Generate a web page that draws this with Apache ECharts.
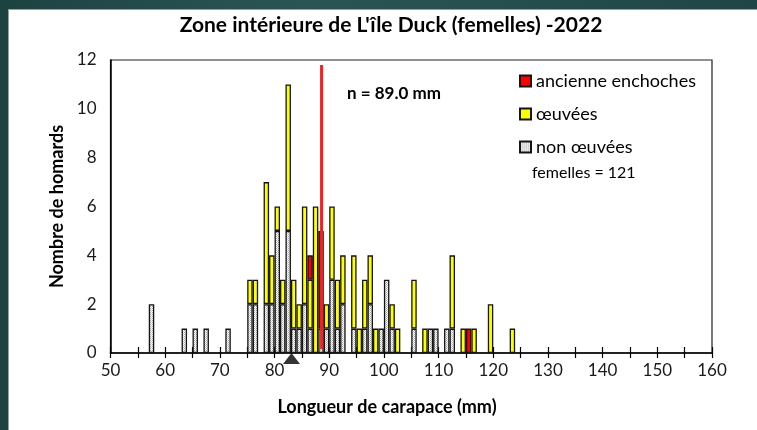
<!DOCTYPE html>
<html>
<head>
<meta charset="utf-8">
<script src="https://cdn.jsdelivr.net/npm/echarts@6/dist/echarts.min.js"></script>
<style>
  html, body { margin: 0; padding: 0; }
  body { width: 757px; height: 430px; position: relative; overflow: hidden;
         background: linear-gradient(90deg, #1d4341, #2b5553 40%, #1f4644); }
  #panel { position: absolute; left: 8px; top: 9px; right: 0; bottom: 0;
           background: #fff; border-left: 1px solid #9c9c9c; border-top: 1px solid #9c9c9c; }
  #main { position: absolute; left: 0; top: 0; width: 757px; height: 430px; }
</style>
</head>
<body>
<div id="panel"></div>
<div id="main"></div>
<script>
// carapace length bins, 1 mm wide (50..159)
var binMin = 50
var binMax = 160
var xTicks = [50, 60, 70, 80, 90, 100, 110, 120, 130, 140, 150, 160]
var yTicks = [0, 2, 4, 6, 8, 10, 12]

// [bin (mm), count]
var nonOeuvees = [[57,2],[63,1],[65,1],[67,1],[71,1],[75,2],[76,2],[78,2],[79,2],[80,5],
  [81,2],[82,5],[83,1],[84,1],[85,2],[86,1],[88,1],[89,1],[90,3],[91,1],[92,2],[94,1],
  [96,1],[97,2],[99,1],[100,3],[101,1],[105,1],[108,1],[109,1],[111,1],[112,1]]
var oeuvees = [[75,1],[76,1],[78,5],[79,2],[80,1],[81,1],[82,6],[83,2],[84,1],[85,4],
  [86,2],[87,6],[89,1],[90,3],[91,2],[92,2],[94,3],[95,1],[96,2],[97,2],[98,1],[101,1],
  [102,1],[105,2],[107,1],[112,3],[114,1],[116,1],[119,2],[123,1]]
var ancienneEnchoches = [[86,1],[88,4],[115,1]]

// red vertical line and size marker (triangle)
var meanLine = [[88.6, 0.15], [88.6, 11.8]]
var meanText = 'n = 89.0 mm'
var marker = [[83.1, 0]]
var totalText = 'femelles = 121'

var categories = []
for (var v = binMin; v < binMax; v++) categories.push(v)

function fill(pairs) {
  var out = categories.map(function () { return '-' })
  pairs.forEach(function (p) { out[p[0] - binMin] = p[1] })
  return out
}

// dotted grey fill
var cv = document.createElement('canvas')
cv.width = 2; cv.height = 2
var cx = cv.getContext('2d')
cx.fillStyle = '#ffffff'; cx.fillRect(0, 0, 2, 2)
cx.fillStyle = '#a8a8a8'; cx.fillRect(0, 0, 1, 1)
cx.fillStyle = '#d0d0d0'; cx.fillRect(1, 1, 1, 1)
var dotted = { image: cv, repeat: 'repeat' }

var font = 'Lato'
var border = { borderColor: '#141414', borderWidth: 1.3 }

var chart = echarts.init(document.getElementById('main'))
chart.setOption({
  animation: false,
  textStyle: { fontFamily: font },
  title: {
    text: "Zone intérieure de L'île Duck (femelles) -2022",
    left: 386, top: 10, textAlign: 'center',
    textStyle: { fontFamily: font, fontSize: 21, fontWeight: 'bold', color: '#000' }
  },
  legend: {
    orient: 'vertical', left: 519, top: 71, padding: 0, itemWidth: 11, itemHeight: 11, itemGap: 13,
    icon: 'rect',
    data: ['ancienne enchoches', 'œuvées', 'non œuvées'],
    textStyle: { fontFamily: font, fontSize: 18, color: '#000', lineHeight: 20 }
  },
  grid: {
    left: 110.5, right: 45, top: 60, bottom: 77,
    show: true, borderColor: '#222', borderWidth: 1.2, backgroundColor: 'transparent'
  },
  xAxis: [
    { type: 'category', data: categories, show: false, position: 'bottom', boundaryGap: true },
    {
      type: 'value', min: binMin, max: binMax, interval: 5, position: 'bottom',
      axisLine: { show: true, lineStyle: { color: '#000', width: 1.5 } },
      axisTick: { show: true, length: 5, lineStyle: { color: '#000', width: 1.2 } },
      axisLabel: {
        fontSize: 17, color: '#1a1a1a', margin: 9,
        formatter: function (val) { return xTicks.indexOf(val) >= 0 ? String(val) : '' }
      },
      splitLine: { show: false }
    },
    {
      type: 'value', min: binMin, max: binMax, interval: 5, position: 'bottom',
      axisLine: { show: false },
      axisTick: { show: true, inside: true, length: 6, lineStyle: { color: '#000', width: 1.2 } },
      axisLabel: { show: false },
      splitLine: { show: false }
    }
  ],
  yAxis: {
    type: 'value', min: yTicks[0], max: yTicks[yTicks.length - 1], interval: 2,
    axisLine: { show: true, lineStyle: { color: '#000', width: 1.5 } },
    axisTick: { show: false },
    axisLabel: { fontSize: 17, color: '#1a1a1a', margin: 14 },
    splitLine: { show: false },
    name: 'Nombre de homards', nameLocation: 'middle', nameGap: 40,
    nameTextStyle: { fontFamily: font, fontSize: 18, fontWeight: 'bold', color: '#000' }
  },
  graphic: [
    { type: 'text', x: 387, y: 398, style: { text: 'Longueur de carapace (mm)',
      textAlign: 'center', font: 'bold 18px Lato', fill: '#000' } },
    { type: 'text', x: 347, y: 85, style: { text: meanText, font: 'bold 17px Lato', fill: '#000' } },
    { type: 'text', x: 532, y: 165, style: { text: totalText, font: '16px Lato', fill: '#000' } }
  ],
  series: [
    {
      name: 'non œuvées', type: 'bar', stack: 'n', xAxisIndex: 0, barCategoryGap: '0%',
      data: fill(nonOeuvees), itemStyle: Object.assign({ color: dotted }, border)
    },
    {
      name: 'œuvées', type: 'bar', stack: 'n', xAxisIndex: 0, barCategoryGap: '0%',
      data: fill(oeuvees), itemStyle: Object.assign({ color: '#ffff00' }, border)
    },
    {
      name: 'ancienne enchoches', type: 'bar', stack: 'n', xAxisIndex: 0, barCategoryGap: '0%',
      data: fill(ancienneEnchoches), itemStyle: Object.assign({ color: '#ff0000' }, border)
    },
    {
      type: 'line', xAxisIndex: 1, data: meanLine, symbol: 'none', silent: true, z: 5,
      lineStyle: { color: '#ff1c1c', width: 3 }
    },
    {
      type: 'scatter', xAxisIndex: 1, data: marker, symbol: 'triangle', symbolSize: [17, 11],
      symbolOffset: [0, 5.5], clip: false, silent: true, z: 6, itemStyle: { color: '#000' }
    }
  ]
})
</script>
</body>
</html>
